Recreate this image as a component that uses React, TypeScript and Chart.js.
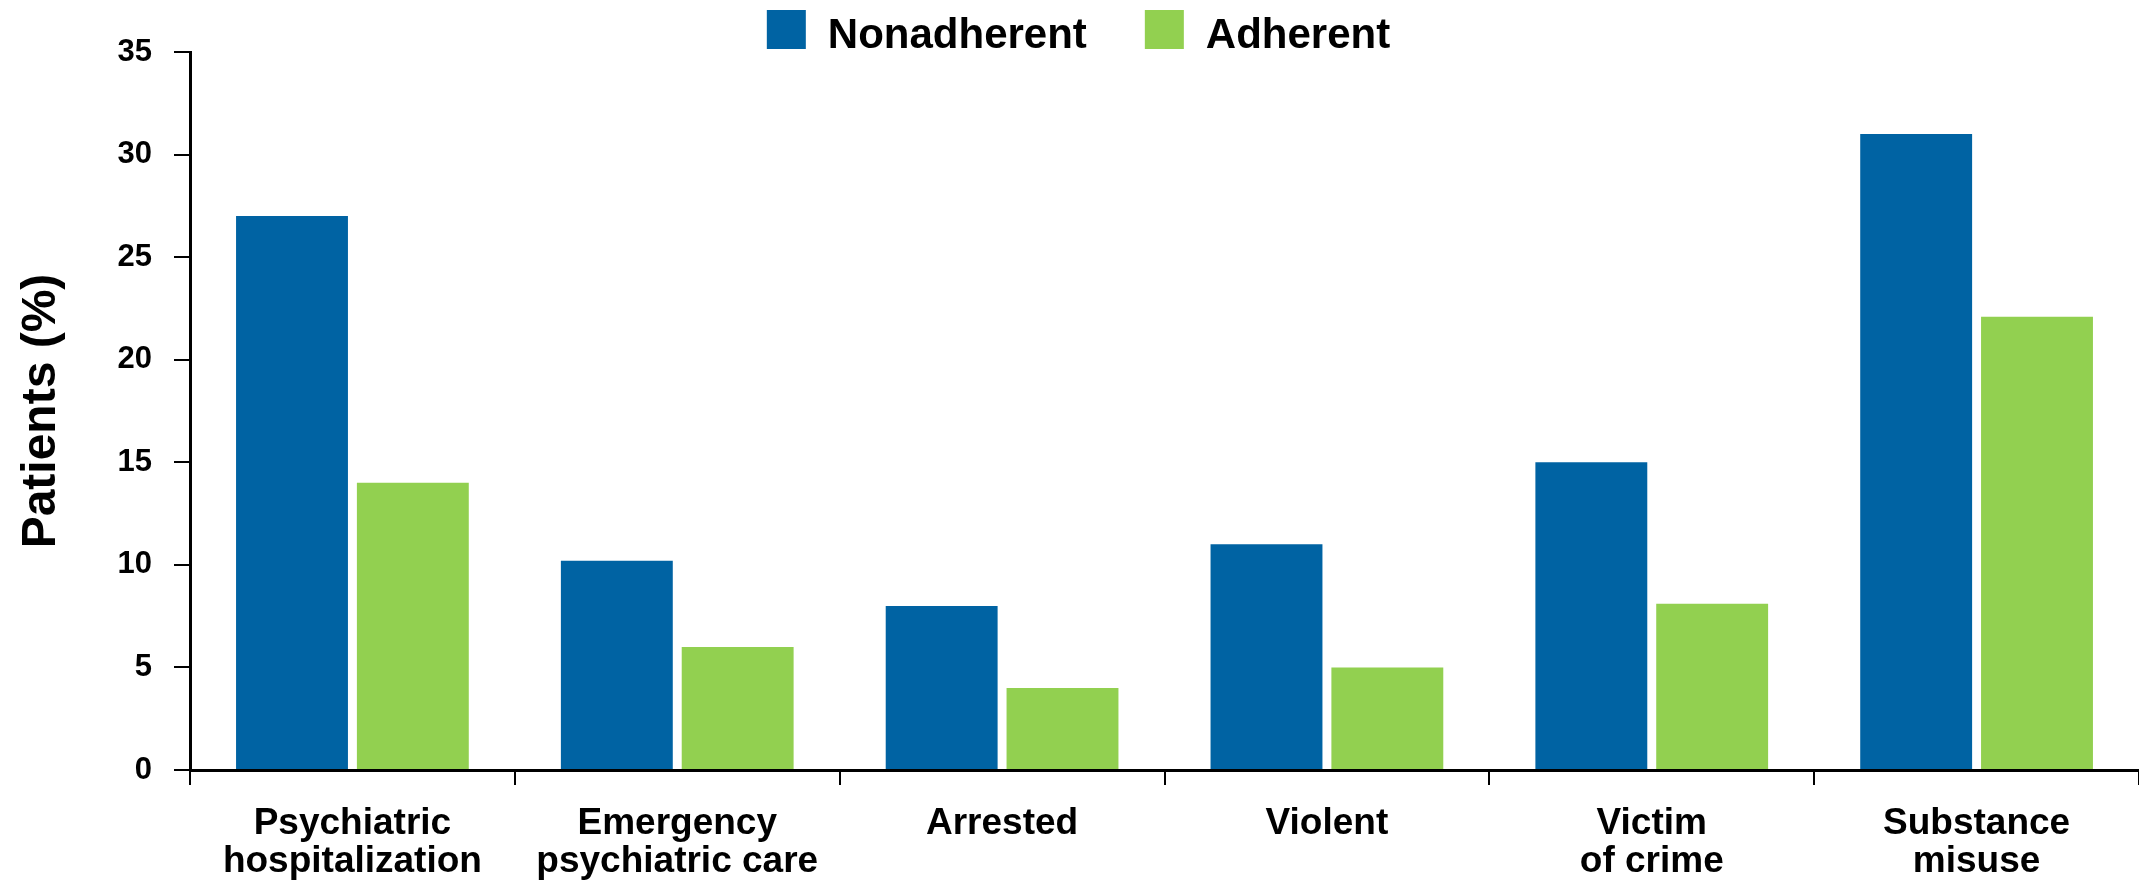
import React, { useEffect, useRef } from "react";
import { Chart, registerables } from "chart.js";

Chart.register(...registerables);

const categories: string[][] = [
  ["Psychiatric", "hospitalization"],
  ["Emergency", "psychiatric care"],
  ["Arrested"],
  ["Violent"],
  ["Victim", "of crime"],
  ["Substance", "misuse"],
];
const seriesNames = ["Nonadherent", "Adherent"];
const nonadherent = [27, 10.2, 8, 11, 15, 31];
const adherent = [14, 6, 4, 5, 8.1, 22.1];
const seriesColors = ["#0063A3", "#92D050"];
const yTicks = [0, 5, 10, 15, 20, 25, 30, 35];
const yTitle = "Patients (%)";

const FONT = "'Liberation Sans', Arial, Helvetica, sans-serif";

const legendPlugin = {
  id: "topLegend",
  afterDraw(chart: any) {
    const ctx = chart.ctx;
    const box = 39;
    const gap = 22;
    const spacing = 58;
    ctx.save();
    ctx.font = `bold 42px ${FONT}`;
    const items = chart.data.datasets.map((ds: any) => ({
      text: ds.label,
      color: ds.backgroundColor,
      w: ctx.measureText(ds.label).width,
    }));
    const total =
      items.reduce((s: number, it: any) => s + box + gap + it.w, 0) +
      spacing * (items.length - 1);
    let x = chart.width / 2 + 9 - total / 2;
    const top = 10;
    items.forEach((it: any) => {
      ctx.fillStyle = it.color;
      ctx.fillRect(x, top, box, box);
      ctx.fillStyle = "#000";
      ctx.textBaseline = "alphabetic";
      ctx.textAlign = "left";
      ctx.fillText(it.text, x + box + gap, top + 38);
      x += box + gap + it.w + spacing;
    });
    ctx.restore();
  },
};

export default function App() {
  const ref = useRef<HTMLCanvasElement | null>(null);
  useEffect(() => {
    document.body.style.margin = "0";
    const canvas = ref.current!;
    const chart = new Chart(canvas, {
      type: "bar",
      data: {
        labels: categories,
        datasets: [
          {
            label: seriesNames[0],
            data: nonadherent,
            backgroundColor: seriesColors[0],
            categoryPercentage: 0.744,
            barPercentage: 0.926,
          },
          {
            label: seriesNames[1],
            data: adherent,
            backgroundColor: seriesColors[1],
            categoryPercentage: 0.744,
            barPercentage: 0.926,
          },
        ],
      },
      options: {
        responsive: false,
        animation: false,
        layout: { padding: { top: 52, left: 0, right: 0, bottom: 0 } },
        plugins: {
          legend: { display: false },
          tooltip: { enabled: false },
        },
        scales: {
          x: {
            afterFit: (s: any) => {
              s.height = 115;
            },
            border: { color: "#000", width: 3 },
            grid: {
              offset: true,
              drawOnChartArea: false,
              drawTicks: true,
              tickLength: 15,
              color: "#000",
              lineWidth: 2,
            },
            ticks: {
              color: "#000",
              padding: 19,
              maxRotation: 0,
              autoSkip: false,
              font: { family: FONT, size: 37, weight: "bold", lineHeight: 1.05 },
            },
          },
          y: {
            min: 0,
            max: 35,
            afterFit: (s: any) => {
              s.width = 190;
            },
            afterBuildTicks: (s: any) => {
              s.ticks = yTicks.map((v) => ({ value: v }));
            },
            border: { color: "#000", width: 3 },
            grid: {
              drawOnChartArea: false,
              drawTicks: true,
              tickLength: 16,
              color: "#000",
              lineWidth: 2,
            },
            ticks: {
              color: "#000",
              padding: 22,
              font: { family: FONT, size: 31, weight: "bold" },
            },
            title: {
              display: true,
              text: yTitle,
              color: "#000",
              padding: { top: 13, bottom: 0 },
              font: { family: FONT, size: 48, weight: "bold" },
            },
          },
        },
      },
      plugins: [legendPlugin],
    });
    return () => chart.destroy();
  }, []);
  return (
    <div style={{ width: 2139, height: 885, background: "#fff" }}>
      <canvas ref={ref} width={2139} height={885} style={{ display: "block" }} />
    </div>
  );
}
